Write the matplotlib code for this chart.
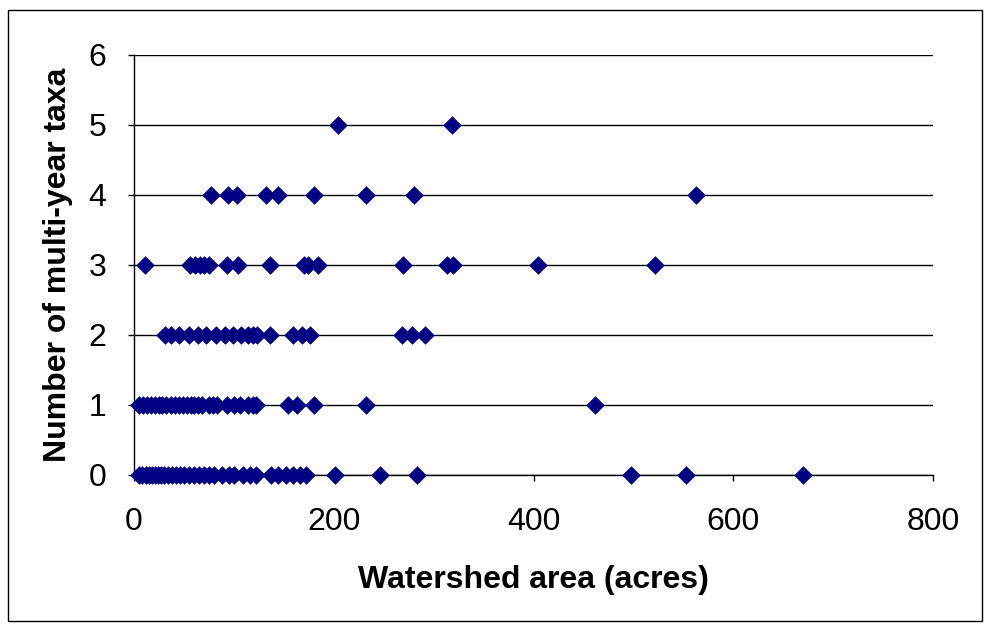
import matplotlib
matplotlib.use("Agg")
import matplotlib.pyplot as plt
from matplotlib.patches import Rectangle

# watershed area (acres) for each count of multi-year taxa
area_0 = [5, 8, 12, 15, 18, 21, 24, 27, 30, 34, 38, 42, 46, 50, 55, 60, 65, 70, 75,
          80, 88, 95, 100, 109, 116, 122, 137, 144, 152, 159, 166, 172, 201, 246,
          283, 498, 553, 670]
area_1 = [5, 9, 13, 17, 21, 25, 28, 32, 37, 41, 45, 49, 53, 57, 60, 64, 68, 75, 79,
          83, 93, 100, 106, 114, 119, 122, 154, 163, 180, 232, 462]
area_2 = [31, 37, 45, 55, 64, 72, 82, 91, 99, 107, 114, 119, 123, 136, 159, 168,
          176, 268, 278, 291]
area_3 = [11, 56, 61, 66, 70, 75, 93, 104, 136, 170, 174, 184, 269, 313, 319, 405, 522]
area_4 = [77, 94, 103, 132, 144, 180, 232, 280, 563]
area_5 = [204, 318]

groups = [area_0, area_1, area_2, area_3, area_4, area_5]

plt.rcParams['font.family'] = ['Liberation Sans', 'DejaVu Sans']

fig = plt.figure(figsize=(9.89, 6.28), dpi=100)
ax = fig.add_axes([134 / 989, 1 - 475 / 628, (933 - 134) / 989, (475 - 55) / 628])

# outer chart border
fig.patches.append(Rectangle((8 / 989, 1 - 621 / 628), (982 - 8) / 989, (621 - 10) / 628,
                             transform=fig.transFigure, fill=False,
                             edgecolor='black', linewidth=1))

for count, xs in enumerate(groups):
    ax.scatter(xs, [count] * len(xs), marker='D', s=90, color='#000080',
               zorder=3, clip_on=False, linewidths=0)

ax.set_xlim(0, 800)
ax.set_ylim(0, 6)
ax.set_xticks([0, 200, 400, 600, 800])
ax.set_yticks(range(7))
ax.yaxis.grid(True, color='black', linewidth=1)
ax.set_axisbelow(True)

for side in ['top', 'right']:
    ax.spines[side].set_visible(False)
for side in ['left', 'bottom']:
    ax.spines[side].set_linewidth(1)

ax.tick_params(axis='both', labelsize=23, length=4, width=1, direction='out')
ax.tick_params(axis='x', pad=19)
ax.tick_params(axis='y', pad=16)
ax.set_xlabel('Watershed area (acres)', fontsize=23, fontweight='bold', labelpad=20)
ax.set_ylabel('Number of multi-year taxa', fontsize=23, fontweight='bold', labelpad=11)

fig.savefig('out.png', dpi=100)
